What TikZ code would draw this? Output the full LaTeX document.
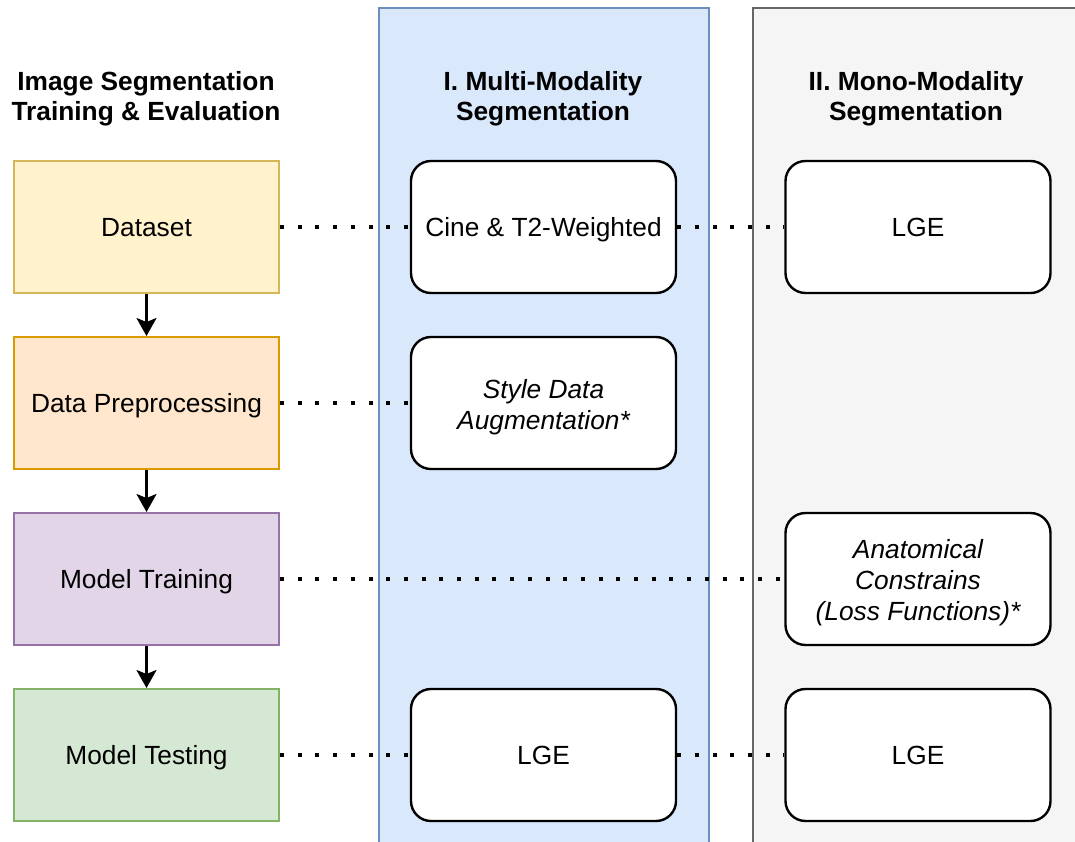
\documentclass[tikz,border=0pt]{standalone}
\usepackage{fontspec}
\setmainfont{Liberation Sans}
\usetikzlibrary{arrows.meta}
\definecolor{dsfill}{HTML}{FFF2CC}\definecolor{dsline}{HTML}{D6B656}
\definecolor{ppfill}{HTML}{FFE6CC}\definecolor{ppline}{HTML}{D79B00}
\definecolor{mtfill}{HTML}{E1D5E7}\definecolor{mtline}{HTML}{9673A6}
\definecolor{tsfill}{HTML}{D5E8D4}\definecolor{tsline}{HTML}{82B366}
\definecolor{bfill}{HTML}{DAE8FC}\definecolor{bline}{HTML}{6C8EBF}
\definecolor{gfill}{HTML}{F5F5F5}\definecolor{gline}{HTML}{666666}
\tikzset{
  stagebox/.style={draw, line width=2pt, minimum width=265pt, minimum height=132pt, inner sep=0pt, align=center, font=\fontsize{26.3}{30}\selectfont, text depth=0pt},
  roundbox/.style={draw=black, fill=white, line width=2.4pt, rounded corners=20pt, minimum width=265pt, minimum height=132pt, inner sep=0pt, align=center, font=\fontsize{26.3}{31}\selectfont},
  oneline/.style={text depth=0pt},
  ittext/.style={align=center, inner sep=0pt, yshift=-4pt, font=\itshape\fontsize{26.3}{31}\selectfont},
  colbox/.style={line width=2pt, anchor=north west, inner sep=0pt, minimum height=900pt},
  title/.style={align=center, font=\bfseries\fontsize{26.3}{30}\selectfont},
  dotline/.style={line width=4pt, dash pattern=on 4pt off 13.7pt},
  flow/.style={line width=2.3pt, -{Stealth[length=18pt, width=20pt, inset=4pt]}}
}
\begin{document}
\begin{tikzpicture}[x=1pt, y=-1pt]
\useasboundingbox (0,0) rectangle (1075,841);
\fill[white] (0,0) rectangle (1075,841);
% columns
\node[colbox, draw=bline, fill=bfill, minimum width=330pt] (colA) at (378,7) {};
\node[colbox, draw=gline, fill=gfill, minimum width=360pt] (colB) at (752,7) {};
% titles
\node[title] (t0) at (146,99) {Image Segmentation\\Training \& Evaluation};
\node[title] (t1) at (543,99) {I. Multi-Modality\\Segmentation};
\node[title] (t2) at (916,99) {II. Mono-Modality\\Segmentation};
% left stages
\node[stagebox, draw=dsline, fill=dsfill] (ds) at (146.5,227) {Dataset};
\node[stagebox, draw=ppline, fill=ppfill] (pp) at (146.5,403) {Data Preprocessing};
\node[stagebox, draw=mtline, fill=mtfill] (mt) at (146.5,579) {Model Training};
\node[stagebox, draw=tsline, fill=tsfill] (ts) at (146.5,755) {Model Testing};
% column boxes
\node[roundbox, oneline] (a1) at (543.5,227) {Cine \& T2-Weighted};
\node[roundbox, label={[ittext]center:Style Data\\Augmentation*}] (a2) at (543.5,403) {};
\node[roundbox, oneline] (a4) at (543.5,755) {LGE};
\node[roundbox, oneline] (b1) at (918,227) {LGE};
\node[roundbox, label={[ittext]center:Anatomical\\Constrains\\(Loss Functions)*}] (b3) at (918,579) {};
\node[roundbox, oneline] (b4) at (918,755) {LGE};
% arrows
\draw[flow] (ds.south) -- (pp.north);
\draw[flow] (pp.south) -- (mt.north);
\draw[flow] (mt.south) -- (ts.north);
% dotted links
\draw[dotline] (ds.east) -- (a1.west);
\draw[dotline] (a1.east) -- (b1.west);
\draw[dotline] (pp.east) -- (a2.west);
\draw[dotline] (mt.east) -- (b3.west);
\draw[dotline] (ts.east) -- (a4.west);
\draw[dotline] (a4.east) -- (b4.west);
\end{tikzpicture}
\end{document}
